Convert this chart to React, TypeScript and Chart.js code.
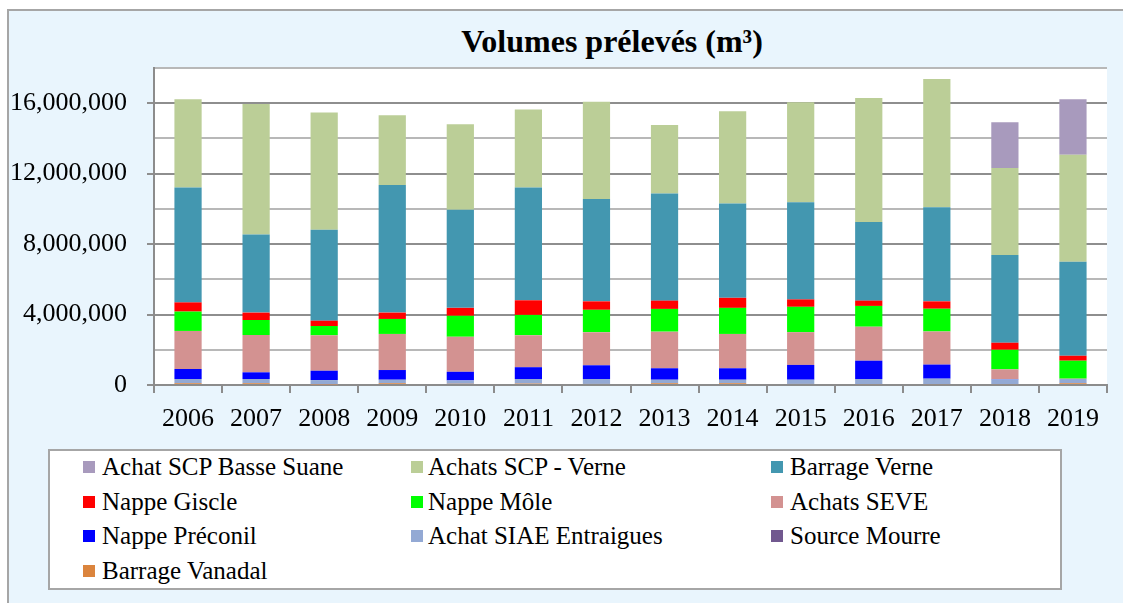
import React, { useEffect, useRef } from 'react';
import { Chart, registerables } from 'chart.js';

Chart.register(...registerables);

// ---- Data (m³) ----
const years = ['2006', '2007', '2008', '2009', '2010', '2011', '2012', '2013', '2014', '2015', '2016', '2017', '2018', '2019'];

const barrageVanadal = [100000, 100000, 30000, 100000, 70000, 80000, 60000, 100000, 100000, 60000, 50000, 50000, 50000, 100000];
const sourceMourre = [0, 0, 0, 0, 0, 0, 0, 0, 0, 0, 0, 0, 0, 0];
const achatSiaeEntraigues = [240000, 240000, 250000, 200000, 190000, 260000, 280000, 200000, 200000, 240000, 290000, 310000, 270000, 240000];
const nappePreconil = [570000, 380000, 530000, 550000, 490000, 670000, 780000, 650000, 650000, 840000, 1040000, 800000, 20000, 0];
const achatsSeve = [2160000, 2120000, 2010000, 2050000, 1990000, 1820000, 1880000, 2080000, 1950000, 1860000, 1930000, 1880000, 550000, 20000];
const nappeMole = [1100000, 850000, 530000, 850000, 1190000, 1150000, 1270000, 1290000, 1480000, 1440000, 1180000, 1290000, 1110000, 1020000];
const nappeGiscle = [520000, 420000, 300000, 360000, 450000, 830000, 480000, 470000, 570000, 420000, 300000, 420000, 400000, 280000];
const barrageVerne = [6520000, 4430000, 5170000, 7240000, 5570000, 6410000, 5810000, 6080000, 5360000, 5510000, 4470000, 5340000, 4980000, 5340000];
const achatsScpVerne = [5020000, 7410000, 6650000, 3970000, 4850000, 4430000, 5530000, 3890000, 5230000, 5680000, 7030000, 7280000, 4940000, 6080000];
const achatScpBasseSuane = [0, 0, 0, 0, 0, 0, 0, 0, 0, 0, 0, 0, 2600000, 3140000];

const yTickStep = 2000000;
const yLabelStep = 4000000;
const yMax = 18000000;

const title = 'Volumes prélevés (m³)';

// stack order: bottom first
const seriesDefs = [
  { label: 'Barrage Vanadal', data: barrageVanadal, color: '#DB843D' },
  { label: 'Source Mourre', data: sourceMourre, color: '#71588F' },
  { label: 'Achat SIAE Entraigues', data: achatSiaeEntraigues, color: '#93A9D4' },
  { label: 'Nappe Préconil', data: nappePreconil, color: '#0000FF' },
  { label: 'Achats SEVE', data: achatsSeve, color: '#D39291' },
  { label: 'Nappe Môle', data: nappeMole, color: '#00FF00' },
  { label: 'Nappe Giscle', data: nappeGiscle, color: '#FF0000' },
  { label: 'Barrage Verne', data: barrageVerne, color: '#4397B0' },
  { label: 'Achats SCP - Verne', data: achatsScpVerne, color: '#BBCE97' },
  { label: 'Achat SCP Basse Suane', data: achatScpBasseSuane, color: '#A89ABD' },
];

const FONT = "'Liberation Serif', 'Times New Roman', serif";

const plotBg = {
  id: 'plotBg',
  beforeDraw(chart: any) {
    const { ctx, chartArea } = chart;
    ctx.save();
    ctx.fillStyle = '#FFFFFF';
    ctx.fillRect(chartArea.left, chartArea.top, chartArea.right - chartArea.left, chartArea.bottom - chartArea.top);
    ctx.restore();
  },
};

function App() {
  const ref = useRef<HTMLCanvasElement | null>(null);

  useEffect(() => {
    if (!ref.current) return;
    const chart = new Chart(ref.current, {
      type: 'bar',
      data: {
        labels: years,
        datasets: seriesDefs.map((s) => ({
          label: s.label,
          data: s.data,
          backgroundColor: s.color,
          borderWidth: 0,
          barPercentage: 0.4,
          categoryPercentage: 1,
        })),
      },
      options: {
        responsive: false,
        animation: false,
        layout: { padding: { left: 0, right: 16, top: 68, bottom: 0 } },
        plugins: {
          legend: { display: false },
          title: { display: false },
          tooltip: { enabled: false },
        },
        scales: {
          x: {
            stacked: true,
            offset: true,
            afterFit: (s: any) => { s.height = 55; },
            grid: {
              display: true,
              drawOnChartArea: false,
              drawTicks: true,
              tickLength: 8,
              offset: true,
              color: '#8C8C8C',
              lineWidth: 2,
            },
            border: { display: true, color: '#8C8C8C', width: 2 },
            ticks: {
              color: '#000000',
              font: { family: FONT, size: 26 },
              padding: 11,
              maxRotation: 0,
              autoSkip: false,
            },
          },
          y: {
            stacked: true,
            min: 0,
            max: yMax,
            afterFit: (s: any) => { s.width = 154; },
            grid: {
              color: (c: any) => (c.tick && c.tick.value % yLabelStep === 0 ? '#8E8E8E' : '#B8B8B8'),
              tickColor: (c: any) => (c.tick && c.tick.value % yLabelStep === 0 ? '#8E8E8E' : 'rgba(0,0,0,0)'),
              lineWidth: 2,
              drawTicks: true,
              tickLength: 7,
            },
            border: { display: true, color: '#8C8C8C', width: 2 },
            ticks: {
              stepSize: yTickStep,
              autoSkip: false,
              color: '#000000',
              font: { family: FONT, size: 26 },
              padding: 20,
              callback: (v: any) => (Number(v) % yLabelStep === 0 ? Number(v).toLocaleString('en-US') : ''),
            },
          },
        },
      },
      plugins: [plotBg],
    });
    return () => chart.destroy();
  }, []);

  const legendOrder = [...seriesDefs].reverse();
  const colMarkerX = [83, 411, 771];
  const colTextX = [102, 428, 790];
  const rowCenterY = [467, 501.5, 536, 570.5];

  return (
    <div style={{ position: 'absolute', left: 0, top: 0, width: 1123, height: 603, overflow: 'hidden' }}>
      <div
        style={{
          position: 'absolute',
          left: 7,
          top: 9,
          width: 1116,
          height: 594,
          boxSizing: 'border-box',
          background: '#E9F5FD',
          borderTop: '2px solid #A6A6A6',
          borderLeft: '2px solid #A6A6A6',
        }}
      />
      <div
        style={{
          position: 'absolute',
          left: 312,
          width: 600,
          top: 25,
          textAlign: 'center',
          fontFamily: FONT,
          fontWeight: 'bold',
          fontSize: 32,
          lineHeight: '32px',
          color: '#000',
          whiteSpace: 'nowrap',
        }}
      >
        {title}
      </div>
      <canvas
        ref={ref}
        width={1123}
        height={440}
        style={{ position: 'absolute', left: 0, top: 0, width: 1123, height: 440 }}
      />
      <div
        style={{
          position: 'absolute',
          left: 48,
          top: 449,
          width: 1014,
          height: 141,
          boxSizing: 'border-box',
          background: '#FFFFFF',
          border: '2px solid #A6A6A6',
        }}
      />
      {legendOrder.map((s, i) => {
        const col = i % 3;
        const row = Math.floor(i / 3);
        const cy = rowCenterY[row];
        return (
          <React.Fragment key={s.label}>
            <div
              style={{
                position: 'absolute',
                left: colMarkerX[col],
                top: cy - 6,
                width: 12,
                height: 12,
                background: s.color,
              }}
            />
            <div
              style={{
                position: 'absolute',
                left: colTextX[col],
                top: cy + 8 - 20.9,
                fontFamily: FONT,
                fontSize: 25,
                lineHeight: '25px',
                color: '#000',
                whiteSpace: 'nowrap',
              }}
            >
              {s.label}
            </div>
          </React.Fragment>
        );
      })}
    </div>
  );
}

export default App;
